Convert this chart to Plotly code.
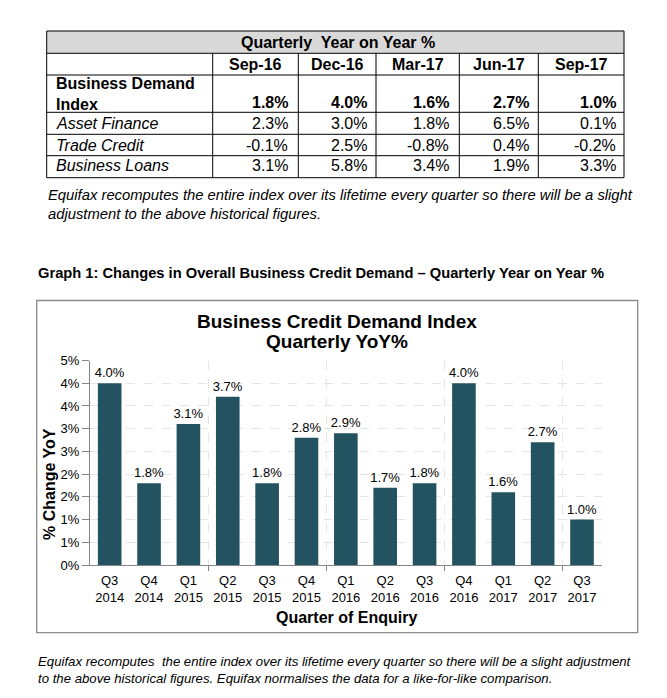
import plotly.graph_objects as go

# ---------------- data ----------------
table_title = "Quarterly\u00a0 Year on Year %"
periods = ["Sep-16", "Dec-16", "Mar-17", "Jun-17", "Sep-17"]
row_labels = ["Business Demand<br>Index", "Asset Finance", "Trade Credit", "Business Loans"]
business_demand_index = [1.8, 4.0, 1.6, 2.7, 1.0]
asset_finance = [2.3, 3.0, 1.8, 6.5, 0.1]
trade_credit = [-0.1, 2.5, -0.8, 0.4, -0.2]
business_loans = [3.1, 5.8, 3.4, 1.9, 3.3]

note_top = ["Equifax recomputes the entire index over its lifetime every quarter so there will be a slight",
            "adjustment to the above historical figures."]
graph_heading = "Graph 1: Changes in Overall Business Credit Demand \u2013 Quarterly Year on Year %"
chart_title = ["Business Credit Demand Index", "Quarterly YoY%"]
quarters = ["Q3", "Q4", "Q1", "Q2", "Q3", "Q4", "Q1", "Q2", "Q3", "Q4", "Q1", "Q2", "Q3"]
years = ["2014", "2014", "2015", "2015", "2015", "2015", "2016", "2016", "2016", "2016", "2017", "2017", "2017"]
yoy_change = [4.0, 1.8, 3.1, 3.7, 1.8, 2.8, 2.9, 1.7, 1.8, 4.0, 1.6, 2.7, 1.0]
ytick_vals = [0, 0.5, 1.0, 1.5, 2.0, 2.5, 3.0, 3.5, 4.0, 4.5]
ytick_text = ["0%", "1%", "1%", "2%", "2%", "3%", "3%", "4%", "4%", "5%"]
y_title = "% Change YoY"
x_title = "Quarter of Enquiry"
note_bottom = ["Equifax recomputes  the entire index over its lifetime every quarter so there will be a slight adjustment",
               "to the above historical figures. Equifax normalises the data for a like-for-like comparison."]

# ---------------- layout helpers ----------------
W, H = 667, 698
FONT = "Liberation Sans, Arial, sans-serif"


def fx(x):
    return x / W


def fy(y):
    return 1 - y / H


shapes = []
annotations = []


def line(x0, y0, x1, y1, color="#000000", width=1):
    shapes.append(dict(type="line", xref="paper", yref="paper",
                       x0=fx(x0), y0=fy(y0), x1=fx(x1), y1=fy(y1),
                       line=dict(color=color, width=width)))


def text(x, y, s, size, bold=False, italic=False, xanchor="left", color="#000000", yanchor="middle"):
    if bold:
        s = "<b>" + s + "</b>"
    if italic:
        s = "<i>" + s + "</i>"
    annotations.append(dict(xref="paper", yref="paper", x=fx(x), y=fy(y), text=s,
                            showarrow=False, xanchor=xanchor, yanchor=yanchor,
                            align=xanchor if xanchor != "center" else "center",
                            font=dict(family=FONT, size=size, color=color)))


# ---------------- table ----------------
tx0, tx1 = 46.7, 624
col_edges = [46.7, 212.7, 298.3, 376, 459.3, 538.3, 624]
val_right = [289.5, 369, 450.5, 531, 617.5]
row_edges = [31, 53.3, 75, 112.3, 134.3, 155.7, 177.7]

shapes.append(dict(type="rect", xref="paper", yref="paper", x0=fx(tx0), x1=fx(tx1),
                   y0=fy(row_edges[0]), y1=fy(row_edges[1]), fillcolor="#D9D9D9",
                   line=dict(width=0), layer="below"))
for ry in row_edges:
    line(tx0, ry, tx1, ry)
line(tx0, row_edges[0], tx0, row_edges[-1])
line(tx1, row_edges[0], tx1, row_edges[-1])
for cx in col_edges[1:-1]:
    line(cx, row_edges[1], cx, row_edges[-1])

text((tx0 + tx1) / 2 + 3, 43, table_title, 16, bold=True, xanchor="center")
for i, p in enumerate(periods):
    text((col_edges[i + 1] + col_edges[i + 2]) / 2, 64.5, p, 16, bold=True, xanchor="center")

text(54, 94, row_labels[0], 16, bold=True)
row_y = [102, 124, 145.5, 166]
rows = [business_demand_index, asset_finance, trade_credit, business_loans]
for r, vals in enumerate(rows):
    if r > 0:
        text(54, row_y[r], row_labels[r], 16, italic=True)
    for i, v in enumerate(vals):
        text(val_right[i], row_y[r], f"{v:.1f}%", 16, bold=(r == 0), xanchor="right")

# notes
text(46, 195, note_top[0], 14.8, italic=True)
text(46, 213.5, note_top[1], 14.8, italic=True)
text(36, 273, graph_heading, 14.7, bold=True)
text(36, 661, note_bottom[0], 13.2, italic=True)
text(36, 678, note_bottom[1], 13.2, italic=True)

# chart border
shapes.append(dict(type="rect", xref="paper", yref="paper", x0=fx(36.7), x1=fx(637.7),
                   y0=fy(300.5), y1=fy(632.7), line=dict(color="#8C8C8C", width=1.3),
                   fillcolor="rgba(0,0,0,0)"))

# chart titles
text(337, 321, chart_title[0], 19, bold=True, xanchor="center")
text(337, 341.5, chart_title[1], 19, bold=True, xanchor="center")
annotations.append(dict(xref="paper", yref="paper", x=fx(50), y=fy(484), text="<b>" + y_title + "</b>",
                        showarrow=False, textangle=-90, xanchor="center", yanchor="middle",
                        font=dict(family=FONT, size=16, color="#000000")))
text(346.3, 617.5, x_title, 16, bold=True, xanchor="center")

# ---------------- chart ----------------
xs = list(range(len(yoy_change)))
tick_text = [q + "<br>" + y for q, y in zip(quarters, years)]

fig = go.Figure(go.Bar(
    x=xs, y=yoy_change, marker=dict(color="#235261", line=dict(width=0)),
    width=0.6, text=[f"{v:.1f}%" for v in yoy_change], textposition="outside",
    constraintext="none",
    textfont=dict(family=FONT, size=13, color="#000000"), cliponaxis=False,
    hoverinfo="skip"))

fig.update_layout(
    width=W, height=H, margin=dict(l=0, r=0, t=0, b=0, autoexpand=False),
    paper_bgcolor="white", plot_bgcolor="white", showlegend=False,
    shapes=shapes, annotations=annotations,
    xaxis=dict(domain=[fx(90), fx(601.7)], range=[-0.5, len(xs) - 0.5],
               tickmode="array", tickvals=xs, ticktext=tick_text, ticks="",
               ticklabelstandoff=3,
               showgrid=False, zeroline=False, showline=True, linecolor="#868686", linewidth=1,
               automargin=False,
               tickfont=dict(family=FONT, size=13, color="#000000"),
               minor=dict(tickmode="array", tickvals=[2.5, 5.5, 8.5, 11.5], ticks="outside",
                          ticklen=5, tickcolor="#868686", showgrid=True,
                          gridcolor="#E4E4E4", griddash="dash", gridwidth=1)),
    yaxis=dict(domain=[fy(565), fy(360.5)], range=[0, 4.5],
               tickmode="array", tickvals=ytick_vals, ticktext=ytick_text,
               ticks="outside", ticklen=7, tickcolor="#868686",
               showgrid=True, gridcolor="#E4E4E4", griddash="dash", gridwidth=1,
               zeroline=False, showline=True, linecolor="#868686", linewidth=1,
               automargin=False,
               tickfont=dict(family=FONT, size=13, color="#000000")),
)

post = ("var d=document.getElementById('{plot_id}');"
        "d.style.position='fixed';d.style.top='0px';d.style.left='0px';"
        "document.body.style.margin='0';document.documentElement.style.overflow='hidden';"
        "document.body.style.overflow='hidden';")
fig.write_html("out.html", config={"displayModeBar": False}, post_script=post)
